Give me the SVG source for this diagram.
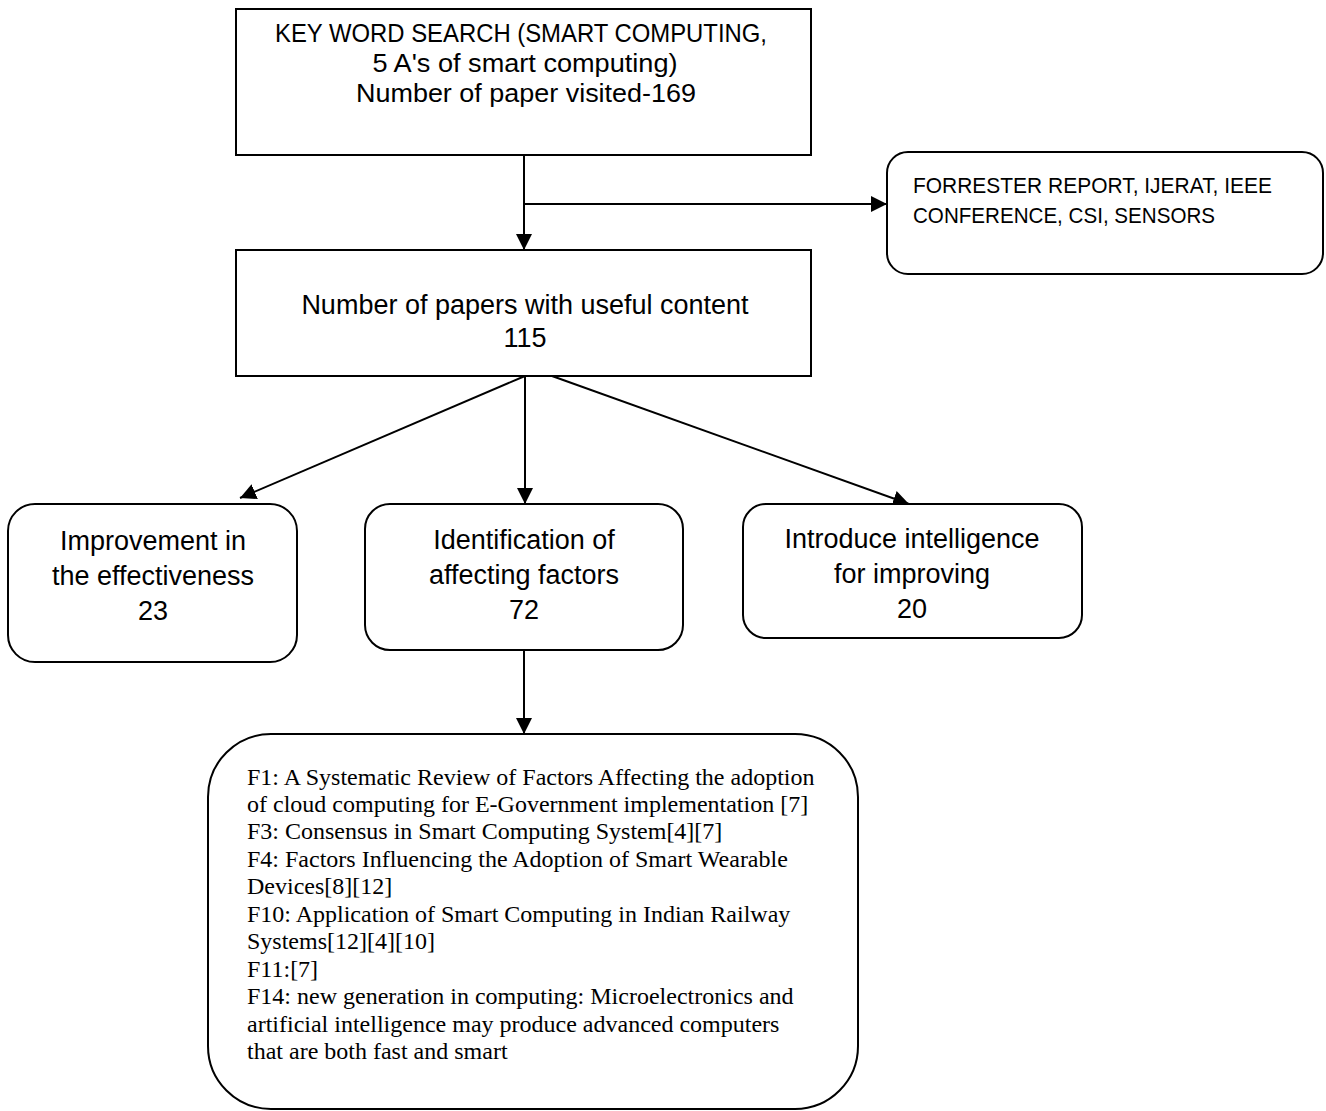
<svg xmlns="http://www.w3.org/2000/svg" width="1326" height="1111" viewBox="0 0 1326 1111">
<style>
  .box { fill: #ffffff; stroke: #000000; stroke-width: 2; }
  .rbox { fill: #ffffff; stroke: #000000; stroke-width: 2; }
  .sans { font-family: "Liberation Sans", Arial, sans-serif; fill: #000000; }
  .c { text-anchor: middle; font-size: 27px; }
  .top { text-anchor: middle; font-size: 26px; }
  .serif { font-family: "Liberation Serif", "Times New Roman", serif; font-size: 24px; fill: #000000; }
  .edge { stroke: #000000; stroke-width: 2; fill: none; marker-end: url(#arrow); }
</style>
<defs>
  <marker id="arrow" markerUnits="userSpaceOnUse" markerWidth="17" markerHeight="17" refX="16" refY="8" orient="auto">
    <path d="M0,0 L16,8 L0,16 z" fill="#000000"/>
  </marker>
</defs>
<rect width="1326" height="1111" fill="#ffffff"/>

<g id="connectors">
  <line class="edge" x1="524" y1="155" x2="524" y2="250"/>
  <line class="edge" x1="524" y1="204" x2="887" y2="204"/>
  <line class="edge" x1="525" y1="376" x2="240" y2="498"/>
  <line class="edge" x1="525" y1="376" x2="525" y2="504"/>
  <line class="edge" x1="552" y1="376" x2="909" y2="504"/>
  <line class="edge" x1="524" y1="650" x2="524" y2="734"/>
</g>

<g id="node-keyword">
  <rect class="box" x="236" y="9" width="575" height="146"/>
  <text class="sans top" x="521" y="42" textLength="492" lengthAdjust="spacingAndGlyphs">KEY WORD SEARCH (SMART COMPUTING,</text>
  <text class="sans top" x="525" y="72" textLength="305" lengthAdjust="spacingAndGlyphs">5 A's of smart computing)</text>
  <text class="sans top" x="526" y="102" textLength="340" lengthAdjust="spacingAndGlyphs">Number of paper visited-169</text>
</g>

<g id="node-sources">
  <rect class="rbox" x="887" y="152" width="436" height="122" rx="21" ry="21"/>
  <text class="sans" x="913" y="193" font-size="22" textLength="359" lengthAdjust="spacingAndGlyphs">FORRESTER REPORT, IJERAT, IEEE</text>
  <text class="sans" x="913" y="223" font-size="22" textLength="302" lengthAdjust="spacingAndGlyphs">CONFERENCE, CSI, SENSORS</text>
</g>

<g id="node-useful">
  <rect class="box" x="236" y="250" width="575" height="126"/>
  <text class="sans c" x="525" y="314">Number of papers with useful content</text>
  <text class="sans c" x="525" y="347">115</text>
</g>

<g id="node-improvement">
  <rect class="rbox" x="8" y="504" width="289" height="158" rx="27" ry="27"/>
  <text class="sans c" x="153" y="550">Improvement in</text>
  <text class="sans c" x="153" y="585">the effectiveness</text>
  <text class="sans c" x="153" y="620">23</text>
</g>

<g id="node-identification">
  <rect class="rbox" x="365" y="504" width="318" height="146" rx="25" ry="25"/>
  <text class="sans c" x="524" y="549">Identification of</text>
  <text class="sans c" x="524" y="584">affecting factors</text>
  <text class="sans c" x="524" y="619">72</text>
</g>

<g id="node-intelligence">
  <rect class="rbox" x="743" y="504" width="339" height="134" rx="23" ry="23"/>
  <text class="sans c" x="912" y="548">Introduce intelligence</text>
  <text class="sans c" x="912" y="583">for improving</text>
  <text class="sans c" x="912" y="618">20</text>
</g>

<g id="node-factors">
  <rect class="rbox" x="208" y="734" width="650" height="375" rx="63" ry="63"/>
  <text class="serif" x="247" y="785">F1: A Systematic Review of Factors Affecting the adoption</text>
  <text class="serif" x="247" y="812">of cloud computing for E-Government implementation [7]</text>
  <text class="serif" x="247" y="839">F3: Consensus in Smart Computing System[4][7]</text>
  <text class="serif" x="247" y="867">F4: Factors Influencing the Adoption of Smart Wearable</text>
  <text class="serif" x="247" y="894">Devices[8][12]</text>
  <text class="serif" x="247" y="922">F10: Application of Smart Computing in Indian Railway</text>
  <text class="serif" x="247" y="949">Systems[12][4][10]</text>
  <text class="serif" x="247" y="977">F11:[7]</text>
  <text class="serif" x="247" y="1004">F14: new generation in computing: Microelectronics and</text>
  <text class="serif" x="247" y="1032">artificial intelligence may produce advanced computers</text>
  <text class="serif" x="247" y="1059">that are both fast and smart</text>
</g>
</svg>
